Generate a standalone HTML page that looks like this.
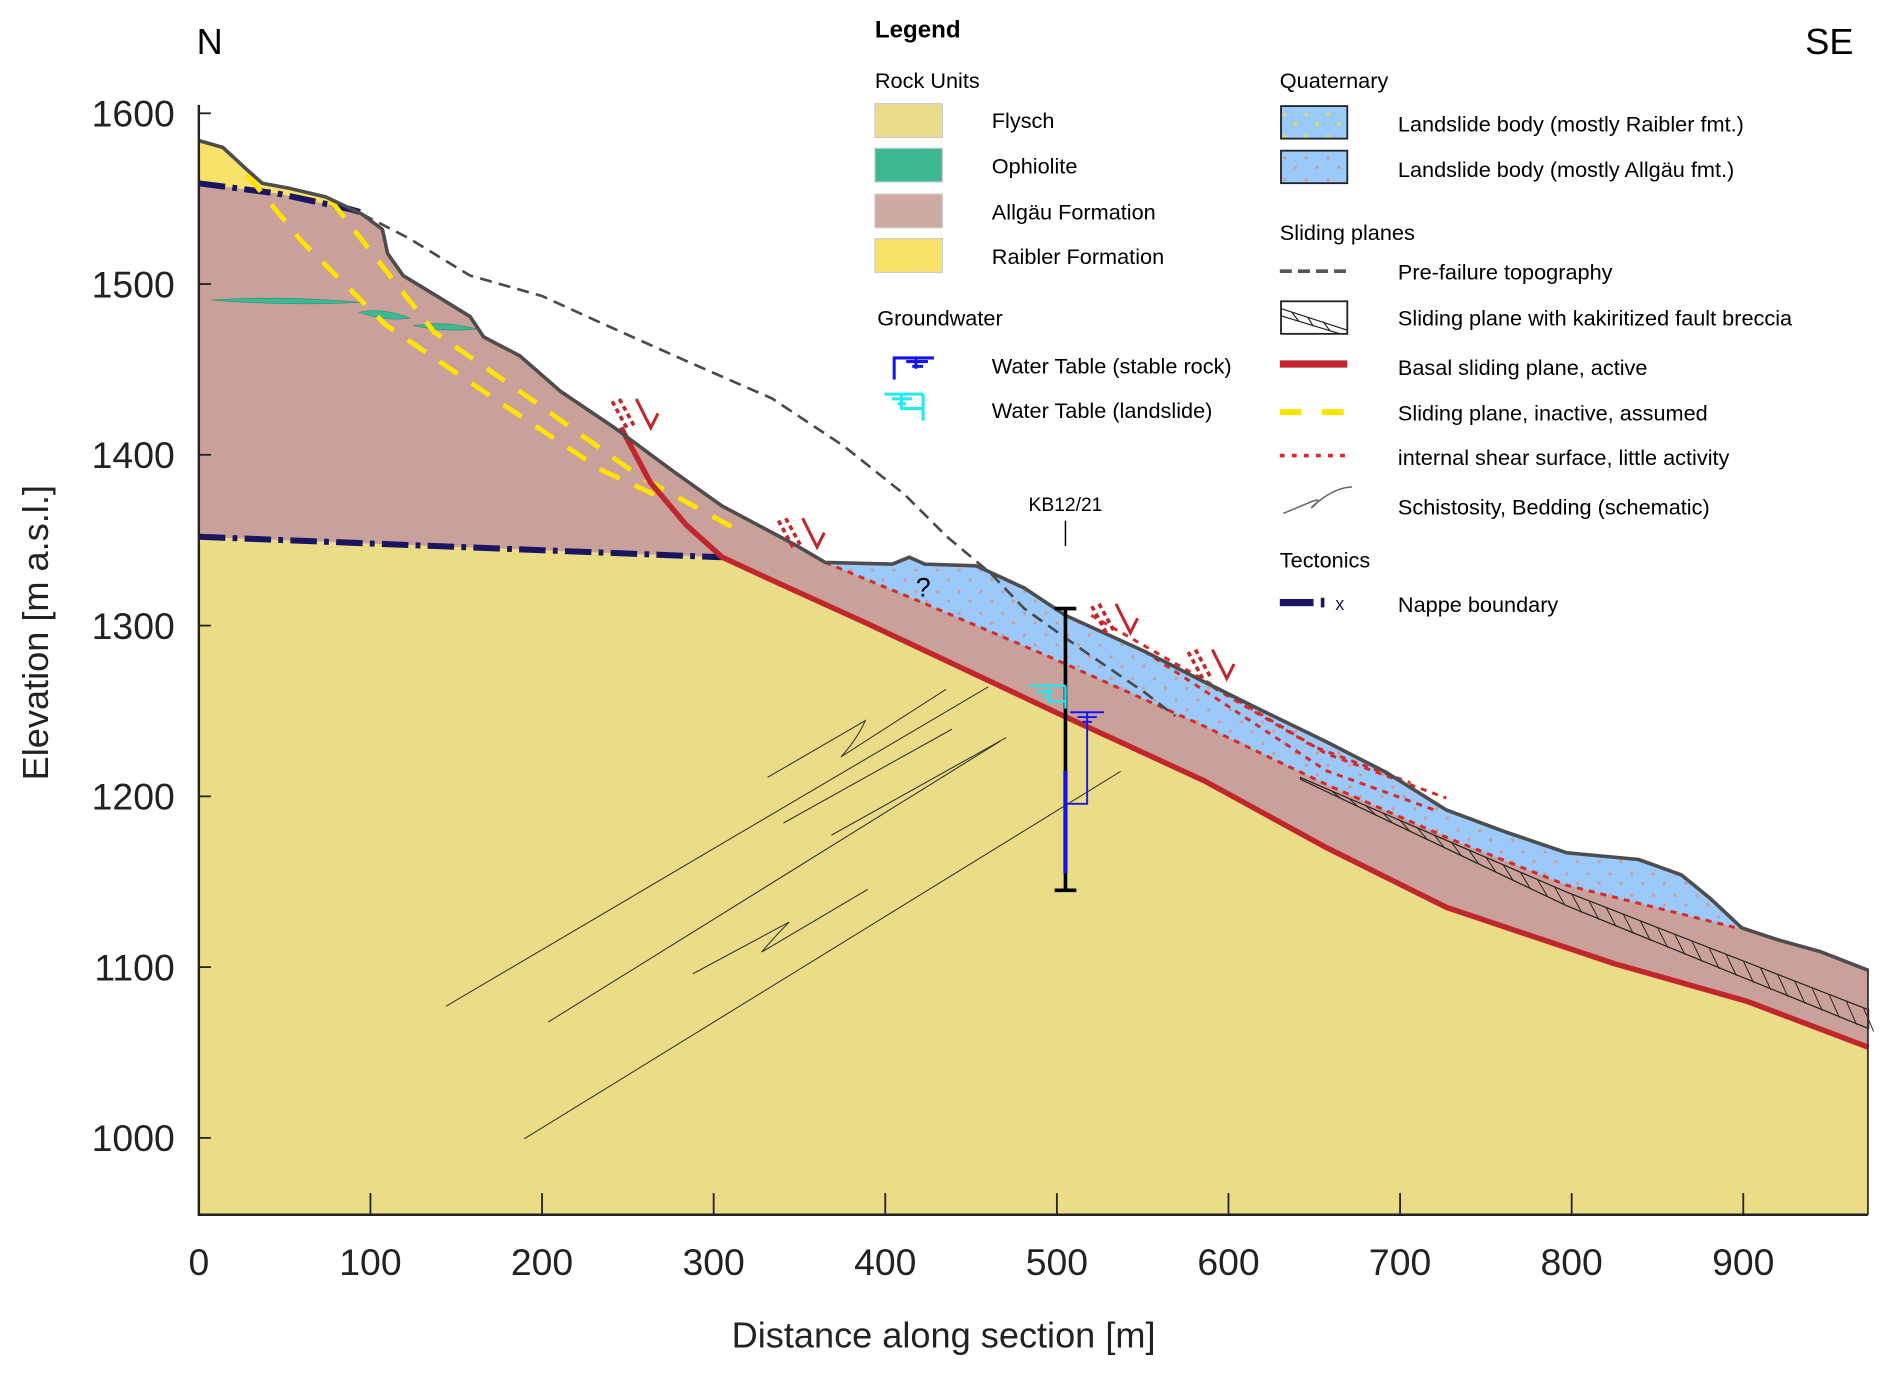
<!DOCTYPE html>
<html><head><meta charset="utf-8">
<style>
html,body{margin:0;padding:0;background:#fff;}
svg{display:block;font-family:"Liberation Sans",Arial,sans-serif;}
</style></head>
<body>
<svg id="chart" width="1892" height="1377" viewBox="0 0 1570 1142.6" xmlns="http://www.w3.org/2000/svg">
<defs>
<pattern id="dotsR" width="18" height="18" patternUnits="userSpaceOnUse"><rect width="18" height="18" fill="#9BC9FA"/><circle cx="4" cy="5" r="1.3" fill="#F2E03A"/><circle cx="13" cy="13" r="1.3" fill="#F2E03A"/></pattern>
<pattern id="dotsA" width="18" height="18" patternUnits="userSpaceOnUse"><rect width="18" height="18" fill="#9BC9FA"/><circle cx="4" cy="5" r="1.3" fill="#D39A8E"/><circle cx="13" cy="13" r="1.3" fill="#D39A8E"/></pattern>
</defs>
<g id="plot"></g>
<g id="legend">
 <text x="726" y="31" font-size="20" font-weight="bold">Legend</text>
 <text x="726" y="73" font-size="18">Rock Units</text>
 <rect x="726" y="86" width="56" height="28" fill="#EBDC8C" stroke="#ccc"/>
 <text x="823" y="106" font-size="18">Flysch</text>
 <rect x="726" y="123" width="56" height="28" fill="#3DB894" stroke="#ccc"/>
 <text x="823" y="144" font-size="18">Ophiolite</text>
 <rect x="726" y="161" width="56" height="28" fill="#CFAAA3" stroke="#ccc"/>
 <text x="823" y="182" font-size="18">Allgäu Formation</text>
 <rect x="726" y="198" width="56" height="28" fill="#F9E26A" stroke="#ccc"/>
 <text x="823" y="219" font-size="18">Raibler Formation</text>
 <text x="728" y="270" font-size="18">Groundwater</text>
 <g stroke="#1414F0" stroke-width="2.5" fill="none"><path d="M742 315V297H775M752 300H770M757 304H766M760 297V306"/></g>
 <text x="823" y="310" font-size="18">Water Table (stable rock)</text>
 <g stroke="#22E8F0" stroke-width="2.5" fill="none"><path d="M734 327H766M740 331H757M745 335H752M748 327V339H766M766 327V349"/></g>
 <text x="823" y="347" font-size="18">Water Table (landslide)</text>
 <text x="1062" y="73" font-size="18">Quaternary</text>
 <rect x="1063" y="88" width="55" height="27" fill="url(#dotsR)" stroke="#222" stroke-width="1.5"/>
 <text x="1160" y="109" font-size="18">Landslide body (mostly Raibler fmt.)</text>
 <rect x="1063" y="125" width="55" height="27" fill="url(#dotsA)" stroke="#222" stroke-width="1.5"/>
 <text x="1160" y="147" font-size="18">Landslide body (mostly Allgäu fmt.)</text>
 <text x="1062" y="199" font-size="18">Sliding planes</text>
 <line x1="1062" y1="225" x2="1118" y2="225" stroke="#555" stroke-width="3" stroke-dasharray="10,5"/>
 <text x="1160" y="232" font-size="18">Pre-failure topography</text>
 <g fill="none" stroke="#222"><rect x="1063" y="250" width="55" height="27" stroke-width="1.5"/><path d="M1063 256L1118 274M1063 262L1112 277M1072 259L1078 267M1085 263L1090 271M1098 267L1104 275"/></g>
 <text x="1160" y="270" font-size="18">Sliding plane with kakiritized fault breccia</text>
 <line x1="1062" y1="302" x2="1118" y2="302" stroke="#C0262B" stroke-width="6"/>
 <text x="1160" y="311" font-size="18">Basal sliding plane, active</text>
 <line x1="1062" y1="342" x2="1118" y2="342" stroke="#FFE400" stroke-width="5" stroke-dasharray="18,17"/>
 <text x="1160" y="349" font-size="18">Sliding plane, inactive, assumed</text>
 <line x1="1062" y1="378" x2="1118" y2="378" stroke="#D62B2B" stroke-width="3" stroke-dasharray="4,6"/>
 <text x="1160" y="386" font-size="18">internal shear surface, little activity</text>
 <path d="M1065 426C1080 420 1100 410 1092 418C1080 430 1100 405 1122 404" fill="none" stroke="#666" stroke-width="1.3"/>
 <text x="1160" y="427" font-size="18">Schistosity, Bedding (schematic)</text>
 <text x="1062" y="471" font-size="18">Tectonics</text>
 <g><rect x="1062" y="497" width="28" height="6" fill="#1A1560"/><rect x="1096" y="496" width="3" height="8" fill="#1A1560"/><text x="1108" y="506" font-size="15" fill="#1A1560">x</text></g>
 <text x="1160" y="508" font-size="18">Nappe boundary</text>
</g>
<text x="174" y="45" font-size="30" text-anchor="middle">N</text>
<text x="1518" y="45" font-size="30" text-anchor="middle">SE</text>
<text x="783" y="1118" font-size="30" text-anchor="middle" fill="#222">Distance along section [m]</text>
<text transform="translate(40,525) rotate(-90)" font-size="30" text-anchor="middle" fill="#222">Elevation [m a.s.l.]</text>
</svg>
<script>
const xTicks=[0,100,200,300,400,500,600,700,800,900];
const yTicks=[1000,1100,1200,1300,1400,1500,1600];
const topoD=[0,14,28,37,53,74,95,107,110,119,137,158,166,187,211,242,277,305,348,365,404,414,423,453,481,505,551,586,614,657,692,727,762,797,839,864,881,899,920,945,973];
const topoE=[1584,1580,1567,1559,1556,1551,1541,1532,1518,1505,1494,1481,1469,1458,1437,1416,1390,1370,1347,1337,1336,1340,1336,1335,1322,1306,1285,1267,1253,1232,1214,1192,1179,1167,1163,1154,1140,1123,1116,1109,1098];
const preD=[95,122,158,200,235,284,334,376,411,436,461,481,516,551,569];
const preE=[1541,1527,1505,1493,1477,1455,1433,1405,1377,1352,1331,1310,1285,1261,1247];
const nappeUpD=[0,46,88,98];
const nappeUpE=[1559,1553,1544,1541];
const nappeLoD=[0,305];
const nappeLoE=[1352,1340];
const basalD=[246,263,284,305,333,390,502,586,657,727,825,902,973];
const basalE=[1416,1384,1359,1340,1327,1301,1248,1209,1170,1135,1102,1080,1053];
const slideBaseD=[365,418,495,586,657,727,797,896];
const slideBaseE=[1337,1315,1282,1241,1207,1176,1148,1123];
const brecUpD=[642,797,973], brecUpE=[1211,1144,1075];
const brecLoD=[642,797,973], brecLoE=[1210,1136,1064];
const shear1D=[520,586,657,727], shear1E=[1306,1268,1225,1199];
const shear2D=[551,657,720], shear2E=[1285,1215,1192];
const shear3D=[579,650,706], shear3E=[1271,1229,1208];
const inactAD=[28,60,109,172,235,267], inactAE=[1564,1525,1476,1433,1391,1376];
const inactBD=[77,109,137,193,256,312], inactBE=[1549,1508,1472,1433,1388,1357];
const boreD=505, boreTop=1310, boreBottom=1145, boreBlueTop=1215, boreBlueBot=1155;

const NS='http://www.w3.org/2000/svg';
const X=d=>165+d*1.424;
const Y=e=>94+(1600-e)*1.417;
const plot=document.getElementById('plot');
function mk(tag,attrs,parent){const el=document.createElementNS(NS,tag);for(const k in attrs)el.setAttribute(k,attrs[k]);(parent||plot).appendChild(el);return el;}
function pts(D,E){return D.map((d,i)=>X(d).toFixed(1)+','+Y(E[i]).toFixed(1));}
function line(D,E){return 'M'+pts(D,E).join('L');}
const bottomE=955, rightD=973;

let el;
el=mk('rect',{x:X(0),y:Y(1584),width:X(rightD)-X(0),height:Y(bottomE)-Y(1584),fill:'#EBDC87'});


let ap=pts(topoD,topoE).concat([X(rightD)+','+Y(1053)]).concat(pts(basalD.slice(3),basalE.slice(3)).reverse()).concat(pts(nappeLoD,nappeLoE).reverse());
el=mk('path',{d:'M'+ap.join('L')+'Z',fill:'#C9A09A'});


let wp=pts(topoD,topoE).concat([X(rightD)+','+Y(1620),X(0)+','+Y(1620)]);
el=mk('path',{d:'M'+wp.join('L')+'Z',fill:'#fff'});


let si=topoD.indexOf(365), ei=topoD.indexOf(899);
let lp=pts(topoD.slice(si,ei+1),topoE.slice(si,ei+1)).concat(pts(slideBaseD,slideBaseE).reverse());
el=mk('path',{d:'M'+lp.join('L')+'Z',fill:'url(#dotsA)'});


let ri=topoD.indexOf(95);
let rp=pts(topoD.slice(0,ri+1),topoE.slice(0,ri+1)).concat(pts(nappeUpD,nappeUpE).reverse());
el=mk('path',{d:'M'+rp.join('L')+'Z',fill:'#F9E26A'});


[[175,300,249,251],[298,340,259,264],[343,396,270,273]].forEach((o,i)=>{
 el=mk('path',{d:`M${o[0]} ${o[2]}Q${(o[0]+o[1])/2} ${o[2]-4} ${o[1]} ${o[3]}Q${(o[0]+o[1])/2} ${o[3]+3} ${o[0]} ${o[2]}Z`,fill:'#3DB894',stroke:'#2a8f70','stroke-width':0.5});
 
 
});
const sch=['M370 835L820 570','M455 848L830 615','M435 945L930 640','M637 645L718 598Q712 612 698 628L785 572','M650 683L790 605','M690 693L835 612','M575 808L655 765Q645 775 632 790L720 738'];
sch.forEach(d=>{el=mk('path',{d:d,fill:'none',stroke:'#333','stroke-width':0.9});
 
 });
el=mk('path',{d:line(brecUpD,brecUpE)+'L'+pts(brecLoD,brecLoE).reverse().join('L')+'Z',fill:'none',stroke:'#222','stroke-width':1});


let zz='';for(let d=660;d<rightD;d+=10){const t=(d<797)?(d-642)/155:(d-797)/176;const up=(d<797)?1211+(1144-1211)*t:1144+(1075-1144)*t;const lo=(d<797)?1210+(1136-1210)*t:1136+(1064-1136)*t;zz+=`M${X(d)} ${Y(up)}L${X(d+6)} ${Y(lo-3)}`;}
el=mk('path',{d:zz,stroke:'#222','stroke-width':0.8,fill:'none'});


[[nappeUpD,nappeUpE,'nappe-boundary-upper'],[nappeLoD,nappeLoE,'nappe-boundary-lower']].forEach(n=>{
 el=mk('path',{d:line(n[0],n[1]),fill:'none',stroke:'#1A1560','stroke-width':5,'stroke-dasharray':'22,6,4,6'});
 
 });
[[inactAD,inactAE],[inactBD,inactBE]].forEach(n=>{
 el=mk('path',{d:line(n[0],n[1]),fill:'none',stroke:'#FFE400','stroke-width':4,'stroke-dasharray':'18,14'});
 
 });
[[slideBaseD,slideBaseE],[shear1D,shear1E],[shear2D,shear2E],[shear3D,shear3E],[topoD.slice(ei),topoE.slice(ei)]].forEach(n=>{
 el=mk('path',{d:line(n[0],n[1]),fill:'none',stroke:'#D62B2B','stroke-width':2.5,'stroke-dasharray':'5,5'});
 
 });
el=mk('path',{d:line(basalD,basalE),fill:'none',stroke:'#C0262B','stroke-width':4.5});


el=mk('path',{d:line(preD,preE),fill:'none',stroke:'#4a4a4a','stroke-width':2.2,'stroke-dasharray':'10,6'});


el=mk('path',{d:line(topoD,topoE),fill:'none',stroke:'#4d4d4d','stroke-width':3});


[[508,333],[646,432],[906,503],[986,541]].forEach(p=>{
 el=mk('path',{d:`M${p[0]} ${p[1]}l12 22M${p[0]+6} ${p[1]-2}l12 22`,fill:'none',stroke:'#C0262B','stroke-width':3,'stroke-dasharray':'4,3'});
 
 
 el=mk('path',{d:`M${p[0]+20} ${p[1]-2}l12 24l6 -12`,fill:'none',stroke:'#C0262B','stroke-width':2.5});
 
 });
el=mk('text',{x:760,y:495,'font-size':22});el.textContent='?';


const bx=X(boreD);
el=mk('path',{d:`M${bx} ${Y(boreTop)}V${Y(boreBottom)}M${bx-9} ${Y(boreTop)}H${bx+9}M${bx-9} ${Y(boreBottom)}H${bx+9}`,stroke:'#000','stroke-width':3,fill:'none'});


el=mk('path',{d:`M${bx} ${Y(boreBlueTop)}V${Y(boreBlueBot)}`,stroke:'#1414F0','stroke-width':3.5});


el=mk('path',{d:`M${bx-30} 569H${bx}M${bx-24} 574H${bx-10}M${bx-18} 578H${bx-12}M${bx-14} 569V582H${bx}M${bx} 569V588`,stroke:'#22E8F0','stroke-width':2,fill:'none'});


el=mk('path',{d:`M${bx+4} 591H${bx+32}M${bx+10} 595H${bx+26}M${bx+14} 599H${bx+22}M${bx+18} 591V667H${bx}`,stroke:'#1414F0','stroke-width':1.6,fill:'none'});


el=mk('text',{x:bx,y:424,'font-size':16,'text-anchor':'middle'});el.textContent='KB12/21';


el=mk('line',{x1:bx,y1:432,x2:bx,y2:453,stroke:'#000','stroke-width':1.2});


el=mk('path',{d:`M${X(0)} 87V1008H1550`,stroke:'#222','stroke-width':2,fill:'none'});


el=mk('line',{x1:1550,y1:805,x2:1550,y2:1008,stroke:'#333','stroke-width':1.5});


xTicks.forEach(t=>{
 el=mk('line',{x1:X(t),y1:990,x2:X(t),y2:1008,stroke:'#222','stroke-width':1.5});
 
 
 el=mk('text',{x:X(t),y:1058,'font-size':31,'text-anchor':'middle',fill:'#222'});el.textContent=t;
 
 });
yTicks.forEach(t=>{
 el=mk('line',{x1:X(0),y1:Y(t),x2:X(0)+10,y2:Y(t),stroke:'#222','stroke-width':1.5});
 
 
 el=mk('text',{x:145,y:Y(t)+11,'font-size':31,'text-anchor':'end',fill:'#222'});el.textContent=t;
 
 });
</script>
</body></html>
